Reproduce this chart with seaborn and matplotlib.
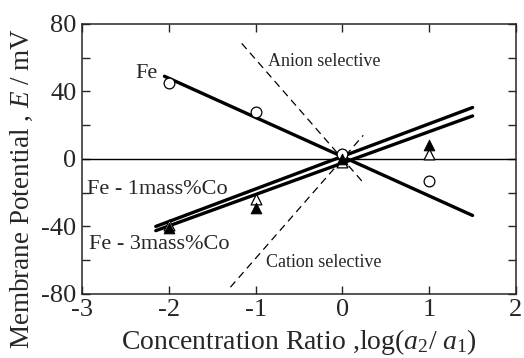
import numpy as np
import matplotlib
matplotlib.use("Agg")
import matplotlib.pyplot as plt
from matplotlib.ticker import MultipleLocator
import seaborn as sns
import pandas as pd

sns.set_style("ticks")
plt.rcParams['font.family'] = ['Liberation Serif', 'DejaVu Serif']
plt.rcParams['mathtext.fontset'] = 'custom'
plt.rcParams['mathtext.rm'] = 'Liberation Serif'
plt.rcParams['mathtext.it'] = 'Liberation Serif:italic'
plt.rcParams['axes.unicode_minus'] = False

# measured points
log_ratio = [-2, -1, 0, 1]
fe_pts = [45, 28, 3, -13]
co1_pts = [-39, -24, -2, 3]
co3_pts = [-41, -29, 0, 8]

# fitted lines (end points)
fe_line_x = [-2.05, 1.5]
fe_line_y = [49, -33.5]
co1_line_x = [-2.15, 1.5]
co1_line_y = [-40, 30.5]
co3_line_x = [-2.15, 1.5]
co3_line_y = [-42.5, 25.5]

# theoretical limits
anion_x = [-1.16, 0.24]
anion_y = [68.5, -14]
cation_x = [-1.29, 0.24]
cation_y = [-76, 14]

fig = plt.figure(figsize=(5.24, 3.58), dpi=100)
ax = fig.add_axes([0.1565, 0.179, 0.8282, 0.754])

ax.axhline(0, color='black', lw=1.0, zorder=1)

lines = pd.DataFrame({
    'x': fe_line_x + co1_line_x + co3_line_x,
    'y': fe_line_y + co1_line_y + co3_line_y,
    'series': ['Fe'] * 2 + ['Co1'] * 2 + ['Co3'] * 2,
})
sns.lineplot(data=lines, x='x', y='y', units='series', estimator=None,
             color='black', lw=2.4, ax=ax, sort=False)

dash = pd.DataFrame({
    'x': anion_x + cation_x,
    'y': anion_y + cation_y,
    'kind': ['anion'] * 2 + ['cation'] * 2,
})
sns.lineplot(data=dash, x='x', y='y', units='kind', estimator=None,
             color='black', lw=0.9, ax=ax, sort=False, dashes=False,
             linestyle=(0, (6, 4)))

pts = pd.DataFrame({'x': log_ratio, 'fe': fe_pts, 'co1': co1_pts, 'co3': co3_pts})
sns.scatterplot(data=pts, x='x', y='fe', marker='o', s=60, facecolor='white',
                edgecolor='black', linewidth=0.9, ax=ax, zorder=3)
sns.scatterplot(data=pts, x='x', y='co1', marker='^', s=60, facecolor='white',
                edgecolor='black', linewidth=0.9, ax=ax, zorder=3)
sns.scatterplot(data=pts, x='x', y='co3', marker='^', s=60, color='black',
                edgecolor='black', ax=ax, zorder=4)

ax.text(-2.39, 50.5, 'Fe', fontsize=16, va='center', ha='left')
ax.text(-0.86, 57.5, 'Anion selective', fontsize=13, va='center', ha='left')
ax.text(-0.88, -61.5, 'Cation selective', fontsize=13, va='center', ha='left')
ax.text(-2.94, -18, 'Fe - 1mass%Co', fontsize=16, va='center', ha='left')
ax.text(-2.92, -50.5, 'Fe - 3mass%Co', fontsize=16, va='center', ha='left')

ax.set_xlim(-3, 2)
ax.set_ylim(-80, 80)
ax.xaxis.set_major_locator(MultipleLocator(1))
ax.yaxis.set_major_locator(MultipleLocator(40))
ax.yaxis.set_minor_locator(MultipleLocator(20))
ax.tick_params(which='both', direction='in', top=True, right=True,
               labelsize=19, width=1, pad=4)
ax.tick_params(which='major', length=6)
ax.tick_params(which='minor', length=6)
for sp in ax.spines.values():
    sp.set_linewidth(1.1)

ax.set_xlabel(r'Concentration Ratio ,log($a_2$/ $a_1$)', fontsize=20, labelpad=4)
ax.set_ylabel(r'Membrane Potential , $E$ / mV', fontsize=19.5)
ax.yaxis.set_label_coords(-0.108, 0.39)

plt.savefig('out.png', dpi=100)
